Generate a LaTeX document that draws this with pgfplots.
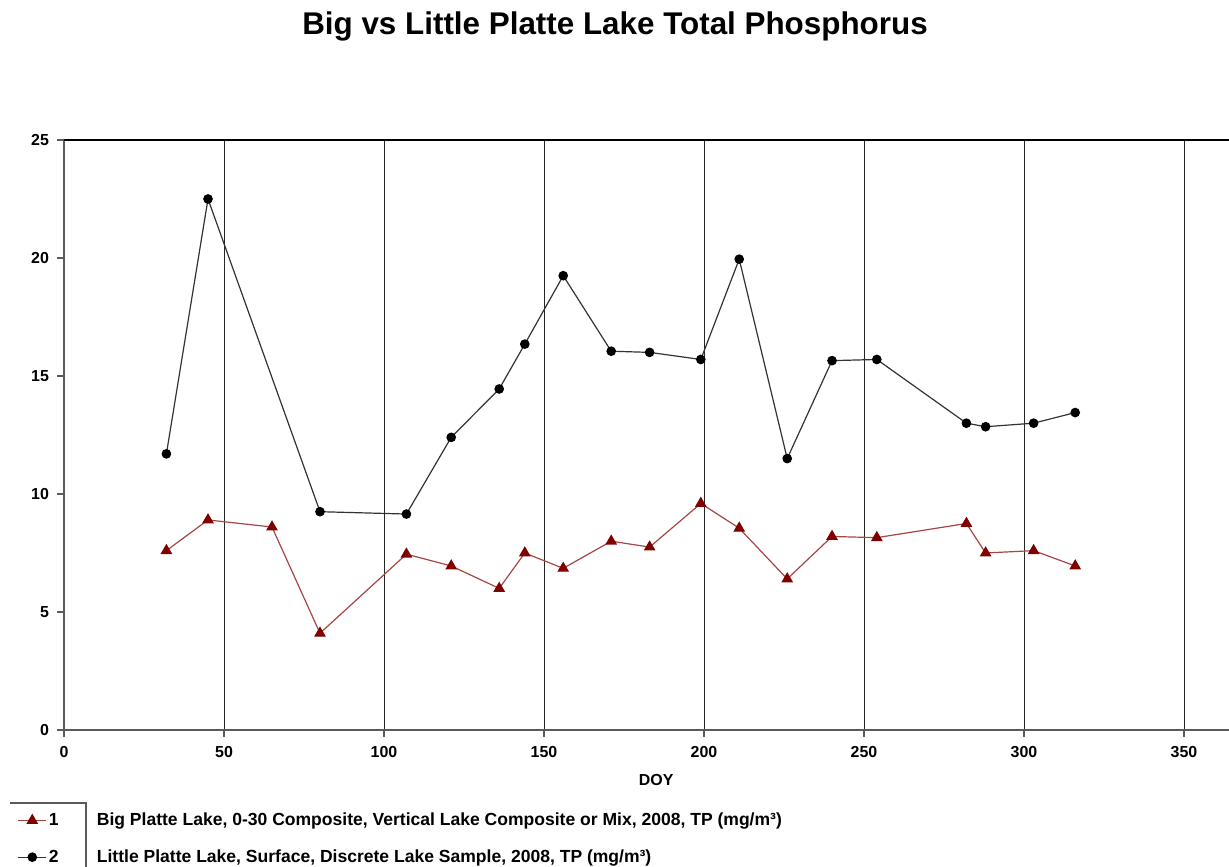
\documentclass[border=0pt]{standalone}
\usepackage{fontspec}
\setmainfont{Liberation Sans}
\usepackage{pgfplots}
\pgfplotsset{compat=1.18}
\definecolor{bigred}{RGB}{128,0,0}
\definecolor{bigline}{RGB}{165,70,70}
\definecolor{axgray}{RGB}{90,90,90}
\begin{document}
\begin{tikzpicture}[x=1bp,y=1bp]
\path[use as bounding box] (-32,-68.5) rectangle (582.5,365);
\begin{axis}[
  at={(0,0)}, anchor=south west,
  width=584bp, height=295bp, scale only axis,
  xmin=0, xmax=365, ymin=0, ymax=25,
  xtick={0,50,...,350}, ytick={0,5,...,25},
  axis lines*=left,
  axis line style={axgray, line width=0.7bp},
  tick align=outside, major tick length=3.5bp,
  tick style={axgray, line width=0.6bp},
  xmajorgrids, grid style={black!85, line width=0.45bp},
  /pgf/number format/assume math mode=true,
  ticklabel style={font=\bfseries\fontsize{8}{9}\selectfont},
  xticklabel style={yshift=-1bp},
  yticklabel style={xshift=-0.5bp},
  xlabel={DOY},
  xlabel style={font=\bfseries\fontsize{8}{9}\selectfont, at={(axis description cs:0.507,-0.085)}, anchor=center},
  legend style={at={(axis description cs:-0.040,-0.136)}, anchor=north west,
    draw=none, fill=none, font=\bfseries\fontsize{8.8}{10}\selectfont,
    row sep=8.5bp, inner sep=0pt, nodes={inner sep=1bp}},
  legend cell align=left,
  legend image code/.code={\draw[mark repeat=2,mark phase=2] plot coordinates {(0bp,0bp)(7bp,0bp)(14bp,0bp)};},
]
\addplot[bigline, line width=0.6bp, mark=triangle*, mark size=2.8bp,
  mark options={fill=bigred, draw=bigred}] coordinates {
  (32,7.6) (45,8.9) (65,8.6) (80,4.1) (107,7.45) (121,6.95) (136,6.0)
  (144,7.5) (156,6.85) (171,8.0) (183,7.75) (199,9.6) (211,8.55)
  (226,6.4) (240,8.2) (254,8.15) (282,8.75) (288,7.5) (303,7.6) (316,6.95)
};
\addlegendentry{\makebox[24bp][l]{1}Big Platte Lake, 0-30 Composite, Vertical Lake Composite or Mix, 2008, TP (mg/m³)}
\addplot[black!80, line width=0.6bp, mark=*, mark size=2.1bp,
  mark options={fill=black, draw=black}] coordinates {
  (32,11.7) (45,22.5) (80,9.25) (107,9.15) (121,12.4) (136,14.45)
  (144,16.35) (156,19.25) (171,16.05) (183,16.0) (199,15.7) (211,19.95)
  (226,11.5) (240,15.65) (254,15.7) (282,13.0) (288,12.85) (303,13.0) (316,13.45)
};
\addlegendentry{\makebox[24bp][l]{2}Little Platte Lake, Surface, Discrete Lake Sample, 2008, TP (mg/m³)}
\draw[black, line width=0.7bp] (rel axis cs:0,1) -- (rel axis cs:1,1);
\end{axis}
\draw[axgray, line width=0.6bp] (-27,-36.5) -- (11,-36.5) -- (11,-68.5);
\node[font=\bfseries\fontsize{15.75}{18}\selectfont, anchor=base] at (275.5,347.5) {Big vs Little Platte Lake Total Phosphorus};
\end{tikzpicture}
\end{document}
